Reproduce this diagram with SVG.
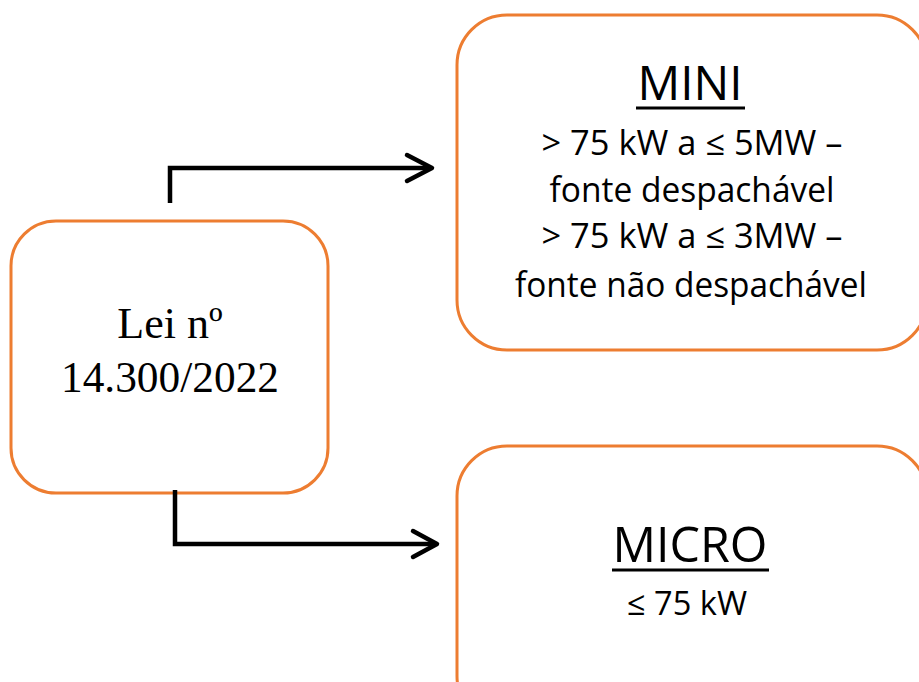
<svg xmlns="http://www.w3.org/2000/svg" width="919" height="682" viewBox="0 0 919 682">
<style>
.box{fill:#fff;stroke:#ED7D31;stroke-width:3}
.serif{font-family:"Liberation Serif","Times New Roman",serif;fill:#000;text-anchor:middle}
.sans{font-family:"Open Sans","Liberation Sans",sans-serif;fill:#000;text-anchor:middle;font-weight:500}
.conn{fill:none;stroke:#000;stroke-width:4.5;stroke-linejoin:miter}
.head{fill:none;stroke:#000;stroke-width:4.5;stroke-linecap:round;stroke-linejoin:round}
</style>
<rect width="919" height="682" fill="#fff"/>
<g id="lei">
<rect class="box" x="11" y="221" width="317" height="272" rx="45" ry="45"/>
<text class="serif" x="170" y="338" font-size="44">Lei nº</text>
<text class="serif" x="170" y="392" font-size="44" textLength="218" lengthAdjust="spacingAndGlyphs">14.300/2022</text>
</g>
<g id="mini">
<rect class="box" x="457" y="15" width="470" height="335" rx="50" ry="50"/>
<text class="sans" x="690" y="100" font-size="48" textLength="105" lengthAdjust="spacingAndGlyphs">MINI</text>
<line x1="636" y1="108" x2="745" y2="108" stroke="#000" stroke-width="3"/>
<text class="sans" x="692" y="155" font-size="34" textLength="301" lengthAdjust="spacingAndGlyphs">&gt; 75 kW a ≤ 5MW –</text>
<text class="sans" x="692" y="202" font-size="34" textLength="285" lengthAdjust="spacingAndGlyphs">fonte despachável</text>
<text class="sans" x="692" y="248" font-size="34" textLength="301" lengthAdjust="spacingAndGlyphs">&gt; 75 kW a ≤ 3MW –</text>
<text class="sans" x="691" y="297" font-size="34" textLength="352" lengthAdjust="spacingAndGlyphs">fonte não despachável</text>
</g>
<g id="micro">
<rect class="box" x="457" y="446" width="470" height="280" rx="50" ry="50"/>
<text class="sans" x="690" y="562" font-size="49" textLength="155" lengthAdjust="spacingAndGlyphs">MICRO</text>
<line x1="612" y1="570" x2="769" y2="570" stroke="#000" stroke-width="3"/>
<text class="sans" x="687" y="615" font-size="33" textLength="120" lengthAdjust="spacingAndGlyphs">≤ 75 kW</text>
</g>
<g id="connectors">
<polyline class="conn" points="170,203 170,168 430,168"/>
<polyline class="head" points="407,155 432,168 407,181"/>
<polyline class="conn" points="175,490 175,544 435,544"/>
<polyline class="head" points="413,531 437,544 413,557"/>
</g>
</svg>
